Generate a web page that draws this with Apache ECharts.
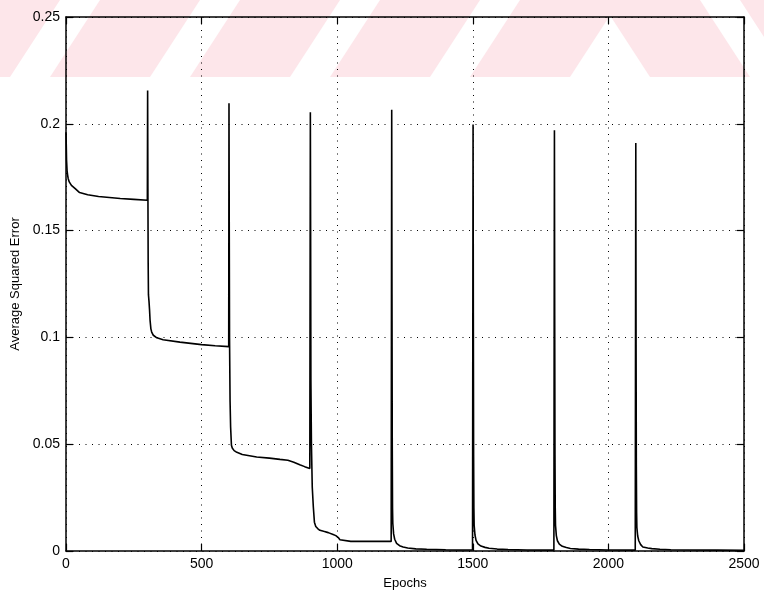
<!DOCTYPE html>
<html>
<head>
<meta charset="utf-8">
<script src="https://cdn.jsdelivr.net/npm/echarts@6/dist/echarts.min.js"></script>
<style>html,body{margin:0;padding:0;background:#fff;}#c{width:764px;height:594px;}</style>
</head>
<body>
<div id="c"></div>
<script>
// ---- data ----
const xTicks = [0, 500, 1000, 1500, 2000, 2500];
const yTicks = [0, 0.05, 0.1, 0.15, 0.2, 0.25];

const cycle1Epochs = [0, 1, 2, 4, 6, 8, 12, 20, 35, 50, 80, 120, 160, 200, 250, 300];
const cycle1Error  = [0.196, 0.19, 0.183, 0.178, 0.176, 0.1744, 0.1728, 0.1712, 0.1695, 0.1678, 0.1668, 0.166, 0.1655, 0.165, 0.1646, 0.1642];

const cycle2Epochs = [301, 302, 303, 304, 306, 308, 310, 313, 316, 322, 335, 358, 420, 500, 550, 600];
const cycle2Error  = [0.2156, 0.17, 0.135, 0.12, 0.117, 0.113, 0.108, 0.104, 0.1025, 0.101, 0.0998, 0.0989, 0.0978, 0.0966, 0.0961, 0.0957];

const cycle3Epochs = [601, 602, 603, 605, 607, 610, 613, 620, 630, 650, 703, 750, 789, 818, 840, 862, 880, 899];
const cycle3Error  = [0.2096, 0.15, 0.1, 0.07, 0.058, 0.0495, 0.0482, 0.047, 0.0462, 0.0452, 0.044, 0.0435, 0.0429, 0.0425, 0.0416, 0.0404, 0.0395, 0.0386];

const cycle4Epochs = [901, 902, 903, 905, 908, 912, 916, 921, 928, 936, 950, 967, 985, 995, 1004, 1010, 1016, 1050, 1100, 1150, 1199];
const cycle4Error  = [0.2054, 0.15, 0.08, 0.05, 0.03, 0.0206, 0.0135, 0.0115, 0.0105, 0.0097, 0.0092, 0.0086, 0.0077, 0.0072, 0.0063, 0.0053, 0.0046, 0.0045, 0.0045, 0.0045, 0.0045];

const cycle5Epochs = [1201, 1202, 1203, 1204, 1205, 1208, 1212, 1219, 1230, 1243, 1260, 1290, 1330, 1400, 1450, 1499];
const cycle5Error  = [0.2066, 0.12, 0.05, 0.02, 0.013, 0.008, 0.0055, 0.0036, 0.0025, 0.0019, 0.0014, 0.001, 0.0008, 0.0006, 0.0005, 0.0005];

const cycle6Epochs = [1501, 1502, 1503, 1504, 1505, 1508, 1512, 1519, 1530, 1545, 1560, 1590, 1630, 1700, 1799];
const cycle6Error  = [0.1997, 0.11, 0.045, 0.02, 0.012, 0.0075, 0.005, 0.0033, 0.0023, 0.0017, 0.0013, 0.0009, 0.0007, 0.0005, 0.0004];

const cycle7Epochs = [1801, 1802, 1803, 1804, 1805, 1808, 1812, 1819, 1830, 1845, 1860, 1890, 1930, 2000, 2099];
const cycle7Error  = [0.197, 0.11, 0.045, 0.02, 0.012, 0.0072, 0.0048, 0.0032, 0.0022, 0.0016, 0.0012, 0.0009, 0.0007, 0.0005, 0.0004];

const cycle8Epochs = [2101, 2102, 2103, 2104, 2105, 2108, 2112, 2119, 2127, 2145, 2160, 2190, 2230, 2300, 2400, 2500];
const cycle8Error  = [0.191, 0.1, 0.04, 0.018, 0.011, 0.007, 0.0048, 0.003, 0.0019, 0.0014, 0.0011, 0.0008, 0.0006, 0.0005, 0.0004, 0.0003];

// ---- build series data ----
const cycles = [
  [cycle1Epochs, cycle1Error], [cycle2Epochs, cycle2Error], [cycle3Epochs, cycle3Error], [cycle4Epochs, cycle4Error],
  [cycle5Epochs, cycle5Error], [cycle6Epochs, cycle6Error], [cycle7Epochs, cycle7Error], [cycle8Epochs, cycle8Error]
];
const lineData = [];
cycles.forEach(([ep, er]) => ep.forEach((e, i) => lineData.push([e, er[i]])));

// ---- watermark stripes (decoration) ----
const pink = '#fde6ea';
const bandH = 77;
const stripes = [];
[-90, 50, 190, 330, 470].forEach(bx => {
  stripes.push([[bx, bandH], [bx + 100, bandH], [bx + 150, 0], [bx + 50, 0]]);
});
[600, 740].forEach(tx => {
  stripes.push([[tx, 0], [tx + 100, 0], [tx + 150, bandH], [tx + 50, bandH]]);
});

const font = 'Liberation Sans, Arial, Helvetica, sans-serif';
const chart = echarts.init(document.getElementById('c'), null, {renderer: 'canvas'});

const grid = {left: 66, right: 20, top: 17, bottom: 43, containLabel: false, outerBoundsMode: 'none'};
const gridLine = {show: true, lineStyle: {color: '#000', width: 1, type: [1, 5.5]}};
const axisLine = {show: true, onZero: false, lineStyle: {color: '#000', width: 1.5}};
const tick = {show: true, inside: true, length: 7, lineStyle: {color: '#000', width: 1.2}};
const plainNum = v => String(v);

chart.setOption({
  animation: false,
  backgroundColor: '#fff',
  graphic: stripes.map(pts => ({
    type: 'polygon', z: -10, silent: true,
    shape: {points: pts},
    style: {fill: pink}
  })),
  grid: grid,
  xAxis: [{
    type: 'value', min: xTicks[0], max: xTicks[xTicks.length - 1], interval: 500,
    axisLine: axisLine, axisTick: tick, splitLine: gridLine,
    axisLabel: {color: '#000', fontFamily: font, fontSize: 14, margin: 6, formatter: plainNum},
    name: 'Epochs', nameLocation: 'middle', nameGap: 26,
    nameTextStyle: {color: '#000', fontFamily: font, fontSize: 13}
  }, {
    type: 'value', position: 'top', min: 0, max: 2500, interval: 500,
    axisLine: axisLine, axisTick: tick, splitLine: {show: false}, axisLabel: {show: false}
  }],
  yAxis: [{
    type: 'value', min: yTicks[0], max: yTicks[yTicks.length - 1], interval: 0.05,
    axisLine: axisLine, axisTick: tick, splitLine: gridLine,
    axisLabel: {color: '#000', fontFamily: font, fontSize: 14, margin: 6, formatter: plainNum},
    name: 'Average Squared Error', nameLocation: 'middle', nameGap: 39,
    nameTextStyle: {color: '#000', fontFamily: font, fontSize: 13}
  }, {
    type: 'value', position: 'right', min: 0, max: 0.25, interval: 0.05,
    axisLine: axisLine, axisTick: tick, splitLine: {show: false}, axisLabel: {show: false}
  }],
  series: [{
    type: 'line', xAxisIndex: 0, yAxisIndex: 0,
    data: lineData, showSymbol: false, symbol: 'none', sampling: null,
    lineStyle: {color: '#000', width: 1.6},
    z: 5
  }]
});
</script>
</body>
</html>
